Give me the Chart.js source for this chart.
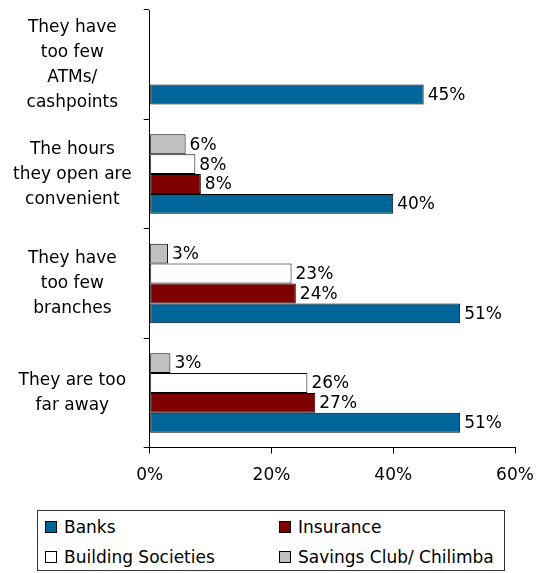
<!DOCTYPE html>
<html>
<head>
<meta charset="utf-8">
<script src="https://cdn.jsdelivr.net/npm/chart.js@4/dist/chart.umd.min.js"></script>
<style>
    body { margin: 0; background: #fff; font-family: "DejaVu Sans", sans-serif; }
    #wrap { position: relative; width: 536px; height: 573px; }
    #chartBox { position: absolute; left: 0; top: 0; width: 536px; height: 504px; }
    #legend { position: absolute; left: 37px; top: 510px; width: 468px; height: 61px; border: 1px solid #333; box-sizing: border-box; }
    .item { position: absolute; font-size: 17px; line-height: 20px; color: #000; white-space: nowrap; }
    .sw { position: absolute; left: 0; top: 4px; width: 10px; height: 10px; border: 1px solid #000; }
    .item span { position: absolute; left: 19px; top: 0; }
</style>
</head>
<body>
<div id="wrap">
    <div id="chartBox"><canvas id="barChart"></canvas></div>
    <div id="legend"></div>
</div>
<script>
// Categories (top to bottom)
const categories = [
    ['They have', 'too few', 'ATMs/', 'cashpoints'],
    ['The hours', 'they open are', 'convenient'],
    ['They have', 'too few', 'branches'],
    ['They are too', 'far away']
];

// Series values (%)
const banks = [45, 40, 51, 51];
const insurance = [null, 8.4, 24, 27.2];
const buildingSocieties = [null, 7.5, 23.3, 25.9];
const savingsClub = [null, 5.9, 3, 3.4];

const xTicks = [0, 20, 40, 60];

const FONT = { family: '"DejaVu Sans", sans-serif', size: 17 };

// Order inside a category: first dataset sits at the top
const datasets = [
    { label: 'Savings Club/ Chilimba', data: savingsClub, backgroundColor: '#c0c0c0' },
    { label: 'Building Societies', data: buildingSocieties, backgroundColor: '#ffffff' },
    { label: 'Insurance', data: insurance, backgroundColor: '#7f0000' },
    { label: 'Banks', data: banks, backgroundColor: '#006699' }
].map(d => Object.assign(d, { borderColor: '#000', borderWidth: 1, borderSkipped: false, categoryPercentage: 0.727, barPercentage: 1 }));

// Percent labels at the end of each bar
const barLabels = {
    id: 'barLabels',
    afterDatasetsDraw(chart) {
        const ctx = chart.ctx;
        ctx.save();
        ctx.font = `${FONT.size}px ${FONT.family}`;
        ctx.fillStyle = '#000';
        ctx.textAlign = 'left';
        ctx.textBaseline = 'middle';
        chart.data.datasets.forEach((ds, i) => {
            const meta = chart.getDatasetMeta(i);
            meta.data.forEach((bar, j) => {
                const v = ds.data[j];
                if (v === null || v === undefined) return;
                ctx.fillText(Math.round(v) + '%', bar.x + 4, bar.y + 1);
            });
        });
        ctx.restore();
    }
};

new Chart(document.getElementById('barChart'), {
    type: 'bar',
    data: { labels: categories, datasets: datasets },
    options: {
        indexAxis: 'y',
        responsive: true,
        maintainAspectRatio: false,
        animation: false,
        layout: { padding: { top: 10, left: 1, right: 0, bottom: 6 } },
        plugins: { legend: { display: false }, tooltip: { enabled: false } },
        scales: {
            x: {
                min: 0, max: 60,
                afterBuildTicks: axis => { axis.ticks = xTicks.map(v => ({ value: v })); },
                afterFit: axis => { axis.paddingRight = 21; axis.paddingLeft = 0; },
                grid: { drawOnChartArea: false, tickLength: 6, color: '#000' },
                border: { color: '#000' },
                ticks: { font: FONT, color: '#000', padding: 12, callback: v => v + '%' }
            },
            y: {
                // tall multi-line labels should not push the plot area in
                afterFit: axis => { axis.paddingTop = 0; axis.paddingBottom = 0; },
                grid: { offset: true, drawOnChartArea: false, tickLength: 6, color: '#000' },
                border: { color: '#000' },
                ticks: { font: Object.assign({ lineHeight: '25px' }, FONT), color: '#000', crossAlign: 'center', padding: 12 }
            }
        }
    },
    plugins: [barLabels]
});

// Legend box, two columns: Banks / Insurance, Building Societies / Savings Club
const legendOrder = [datasets[3], datasets[2], datasets[1], datasets[0]];
const legendEl = document.getElementById('legend');
legendOrder.forEach((ds, i) => {
    const col = i % 2, row = Math.floor(i / 2);
    const div = document.createElement('div');
    div.className = 'item';
    div.style.left = (col === 0 ? 7 : 241) + 'px';
    div.style.top = (row === 0 ? 6 : 36) + 'px';
    div.innerHTML = `<div class="sw" style="background:${ds.backgroundColor}"></div><span>${ds.label}</span>`;
    legendEl.appendChild(div);
});
</script>
</body>
</html>
